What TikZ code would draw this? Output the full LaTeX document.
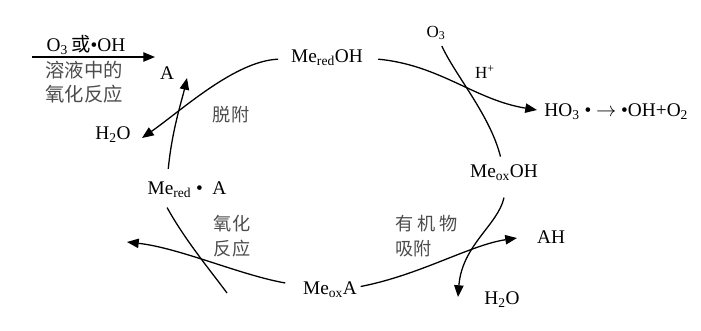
\documentclass[tikz,border=0pt]{standalone}
\usepackage{fontspec}
\setmainfont{Liberation Serif}
\newfontfamily\cjk{Noto Sans CJK SC}
\usetikzlibrary{arrows.meta}
\tikzset{
  species/.style={
    inner sep=1pt,
    font=\fontsize{16.5}{19}\selectfont
  },
  smallspecies/.style={
    inner sep=1pt,
    font=\fontsize{14.5}{16}\selectfont
  },
  cnlabel/.style={
    inner sep=1pt, text=black!70,
    align=left, font=\cjk\fontsize{15.5}{21}\selectfont
  },
  cycleline/.style={
    line width=1.1pt, draw=black
  },
  outarrow/.style={
    cycleline, -{Triangle[length=10pt,width=8pt]}
  }
}

\begin{document}
\begin{tikzpicture}[x=0.03cm, y=-0.03cm]
    \useasboundingbox (0,0) rectangle (701,330);
    % species on the cycle
    \node[species] (mredoh) at (327,58) {Me\textsubscript{red}OH};
    \node[species] (meoxoh) at (504,173) {Me\textsubscript{ox}OH};
    \node[species] (meoxa) at (330,290) {Me\textsubscript{ox}A};
    \node[species] (mreda) at (187,190) {Me\textsubscript{red}\ • \ A};
    % species leaving or entering
    \node[species] (prodA) at (167,73) {A};
    \node[species] (waterl) at (113,135) {H\textsubscript{2}O};
    \node[smallspecies] (ozone) at (436,33) {O\textsubscript{3}};
    \node[smallspecies] (proton) at (485,72) {H\textsuperscript{+}};
    \node[species, anchor=west] (radical) at (543,112)
      {HO\textsubscript{3}\ •\ $\rightarrow$ •OH+O\textsubscript{2}};
    \node[species] (prodAH) at (551,237) {AH};
    \node[species] (waterb) at (502,300) {H\textsubscript{2}O};
    % step labels
    \node[species] (oxidant) at (86,45) {O\textsubscript{3}\,{\cjk 或}•OH};
    \node[cnlabel, align=center, font=\cjk\fontsize{16.5}{21}\selectfont]
      (solrxn) at (84,82) {溶液中的\\氧化反应};
    \node[cnlabel] (desorb) at (231,115) {脱附};
    \node[cnlabel, align=center] (oxrxn) at (232,236) {氧化\\反应};
    \node[cnlabel, anchor=west] (adsorb) at (394,236) {有 机 物\\吸附};
    % free ends
    \coordinate (inL) at (32,57);
    \coordinate (inR) at (155,57);
    \coordinate (tipA) at (187,78);
    \coordinate (tipwl) at (142,138);
    \coordinate (tipho) at (537,110);
    \coordinate (tipah) at (517,238);
    \coordinate (tipwb) at (458,297);
    \coordinate (tipleft) at (127,242);
    \coordinate (lowend) at (227,293);
    % connectors
    \draw[outarrow] (inL) -- (inR);
    \draw[outarrow] ([xshift=-10pt,yshift=-1pt]mredoh.west)
      .. controls (235,61) and (182,110) .. (tipwl);
    \draw[outarrow] ([xshift=-16pt,yshift=10pt]mreda.north)
      .. controls (172,130) and (182,100) .. (tipA);
    \draw[outarrow] ([xshift=12pt,yshift=-1pt]mredoh.east)
      .. controls (440,65) and (475,100) .. (tipho);
    \draw[cycleline] ([xshift=5pt,yshift=-4pt]ozone.south)
      .. controls (455,75) and (490,115) .. ([xshift=-3pt,yshift=6pt]meoxoh.north);
    \draw[outarrow] ([yshift=-13pt]meoxoh.south)
      .. controls (498,225) and (462,245) .. (tipwb);
    \draw[outarrow] ([xshift=2pt,yshift=3pt]meoxa.east)
      .. controls (420,275) and (470,245) .. (tipah);
    \draw[cycleline] ([xshift=-17pt,yshift=-7pt]mreda.south)
      .. controls (185,240) and (210,270) .. (lowend);
    \draw[outarrow] ([xshift=-14pt,yshift=6pt]meoxa.west)
      .. controls (240,275) and (180,248) .. (tipleft);
\end{tikzpicture}
\end{document}
